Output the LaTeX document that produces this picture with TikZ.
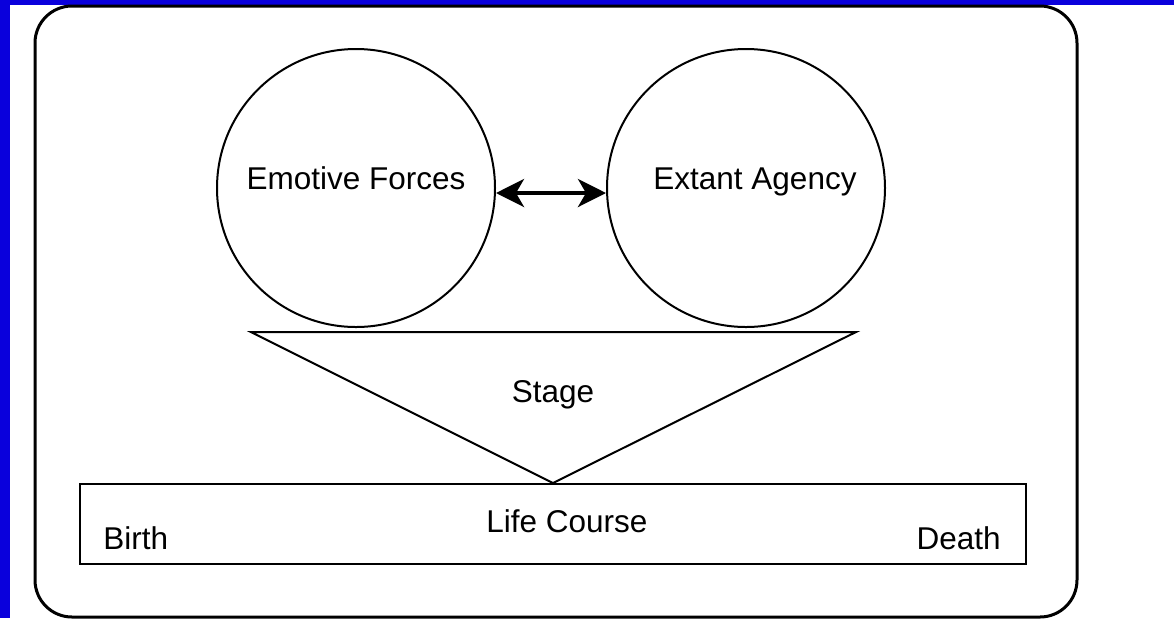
\documentclass[tikz,border=0pt]{standalone}
\usepackage{fontspec}
\setmainfont{Liberation Sans}
\usetikzlibrary{arrows.meta}
\definecolor{myblue}{RGB}{10,0,220}
\newcommand\mytxt[1]{%
  \fontsize{15.75}{19}\selectfont%
  #1%
}

\begin{document}
\begin{tikzpicture}[x=0.5pt,y=-0.5pt,
    stagecircle/.style={circle,draw,line width=1pt,minimum size=139pt,inner sep=0pt,
      text height=11.3pt,text depth=10pt},
    lifebox/.style={rectangle,draw,line width=1.2pt,minimum width=473pt,minimum height=40pt,inner sep=0pt},
    both/.style={{Stealth[length=14pt,width=14pt,inset=4pt]}-{Stealth[length=14pt,width=14pt,inset=4pt]},line width=2pt}]
  \useasboundingbox (0,0) rectangle (1174,618);
  \fill[myblue] (0,0) rectangle (10,618);
  \fill[myblue] (0,0) rectangle (1174,5);

  \draw[line width=1.5pt,rounded corners=18.5pt] (35,6) rectangle (1077,617);

  \foreach \name/\x/\dx/\text in {emotive/356/0pt/Emotive Forces, extant/746/9pt/Extant Agency}
    \node[stagecircle] (\name) at (\x,188) {\mytxt{\hspace*{\dx}\text}};

  \draw[both] ([yshift=-2.5pt]emotive.east) -- ([yshift=-2.5pt]extant.west);

  % stage
  \coordinate (stage-l) at (251,332);
  \coordinate (stage-r) at (856,332);
  \coordinate (stage-tip) at (553,483);
  \draw[line width=1pt,line join=miter] (stage-l) -- (stage-r) -- (stage-tip) -- cycle;
  \node[anchor=base,inner sep=0pt] (stage) at (553,402) {\mytxt{Stage}};

  % life course
  \node[lifebox] (life) at (553,524) {};
  \node[anchor=base,inner sep=0pt] (course) at (567,532) {\mytxt{Life Course}};
  \node[anchor=base west,inner sep=0pt] (birth) at (103,549) {\mytxt{Birth}};
  \node[anchor=base east,inner sep=0pt] (death) at (1001,549) {\mytxt{Death}};
\end{tikzpicture}
\end{document}
